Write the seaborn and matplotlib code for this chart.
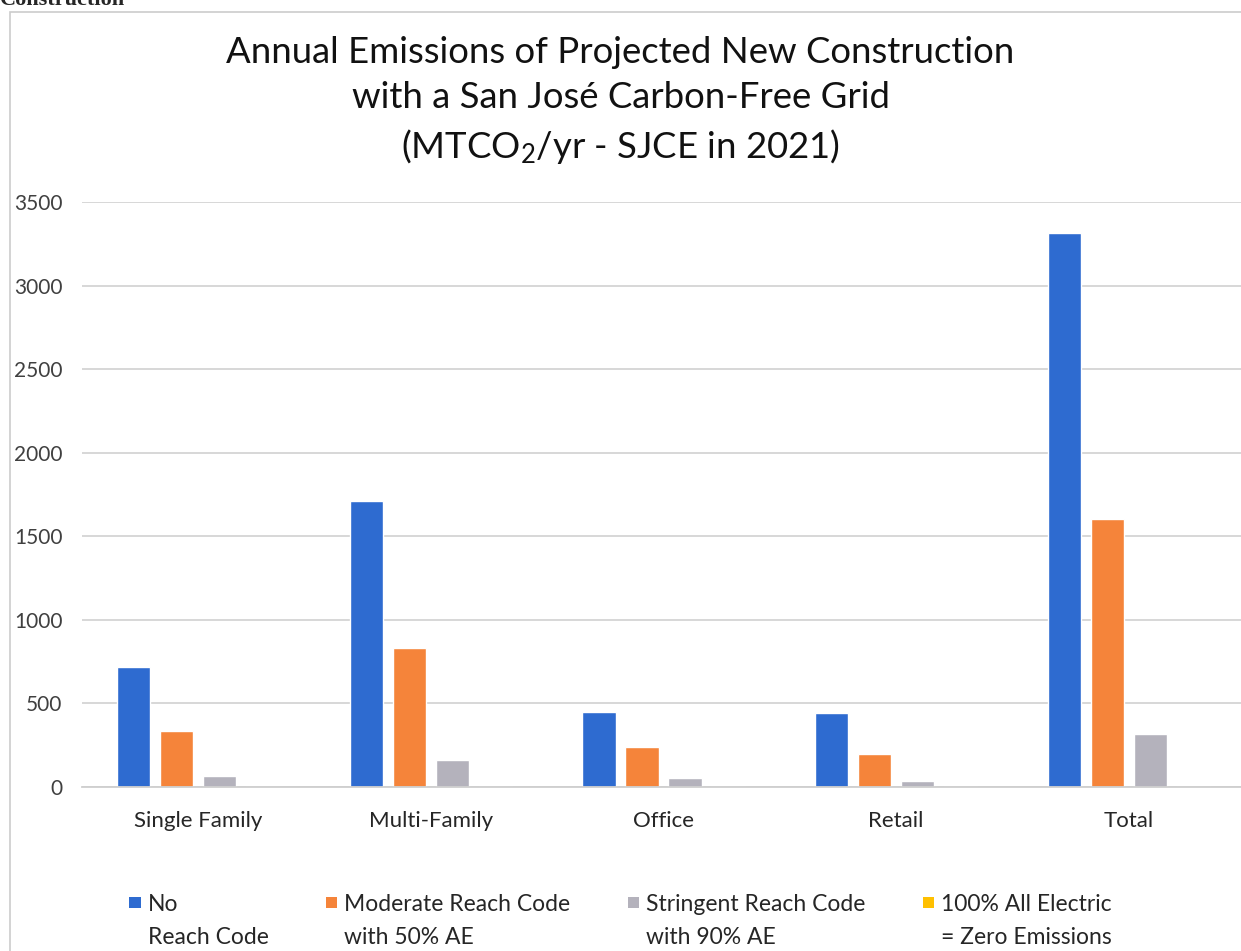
import pandas as pd
import matplotlib.pyplot as plt
import seaborn as sns
from matplotlib.patches import Rectangle, Patch
from matplotlib.legend_handler import HandlerPatch

# Data (MTCO2/yr)
categories = ['Single Family', 'Multi-Family', 'Office', 'Retail', 'Total']
series = ['No\nReach Code', 'Moderate Reach Code\nwith 50% AE',
          'Stringent Reach Code\nwith 90% AE', '100% All Electric\n= Zero Emissions']
no_reach = [715, 1710, 450, 445, 3315]
moderate = [337, 834, 238, 196, 1604]
stringent = [66, 162, 52, 34, 315]
all_electric = [0, 0, 0, 0, 0]
yticks = [0, 500, 1000, 1500, 2000, 2500, 3000, 3500]

colors = ['#2E6BD0', '#F5843A', '#B4B2BC', '#FFC000']

rows = []
for s, vals in zip(series, [no_reach, moderate, stringent, all_electric]):
    for c, v in zip(categories, vals):
        rows.append({'Category': c, 'Series': s, 'Value': v})
df = pd.DataFrame(rows)

sns.set_style('white')
plt.rcParams['font.family'] = ['Lato', 'DejaVu Sans']
plt.rcParams['mathtext.default'] = 'regular'

fig = plt.figure(figsize=(12.41, 9.51), dpi=100)
ax = fig.add_axes([82 / 1241, 1 - 787 / 951, 1163 / 1241, 585 / 951])

sns.barplot(data=df, x='Category', y='Value', hue='Series', palette=colors,
            width=0.74, gap=0.23, saturation=1, ax=ax, legend=False)

ax.set_ylim(0, 3500)
ax.set_yticks(yticks)
ax.yaxis.grid(True, color='#d4d4d4', linewidth=1.3)
ax.set_axisbelow(True)
for sp in ['top', 'right', 'left']:
    ax.spines[sp].set_visible(False)
ax.spines['bottom'].set_color('#cfcfcf')
ax.spines['bottom'].set_linewidth(1.3)
ax.tick_params(axis='both', length=0)
ax.tick_params(axis='y', labelsize=15, labelcolor='#404040', pad=14)
ax.tick_params(axis='x', labelsize=16, labelcolor='#262626', pad=17)
ax.set_xlabel('')
ax.set_ylabel('')

fig.text(0.5, 1 - 101 / 951,
         'Annual Emissions of Projected New Construction\n'
         'with a San José Carbon-Free Grid\n'
         '(MTCO$_2$/yr - SJCE in 2021)',
         ha='center', va='center', fontsize=26.3, color='#111111', linespacing=1.42)


# legend square sits next to the first line of each two-line label
LEG_FS = 16.5
PITCH = 23.0  # points between the two label lines


def top_square(legend, orig_handle, xdescent, ydescent, width, height, fontsize):
    sq = 0.5 * fontsize
    return Rectangle((-xdescent, PITCH - 7.8), sq, sq)


handles = [Patch(facecolor=c, edgecolor='none') for c in colors]
leg = fig.legend(handles, series, loc='center', bbox_to_anchor=(0.5, 1 - 921 / 951),
                 ncol=4, frameon=False, fontsize=LEG_FS, handlelength=0.55,
                 handleheight=0.7, handletextpad=0.25, columnspacing=2.5,
                 handler_map={Patch: HandlerPatch(patch_func=top_square)})
for t in leg.get_texts():
    t.set_linespacing(1.75)
    t.set_color('#262626')

# frame of the pasted chart and clipped heading above it
fig.patches.append(Rectangle((10 / 1241, -0.05), 1.1, 1 - 12 / 951 + 0.05,
                             transform=fig.transFigure, fill=False,
                             edgecolor='#cccccc', linewidth=1.2))
fig.text(0.0, 1 - 5 / 951, 'Construction', ha='left', va='baseline',
         fontsize=16, fontweight='bold', family='Liberation Serif')

fig.savefig('out.png', dpi=100)
